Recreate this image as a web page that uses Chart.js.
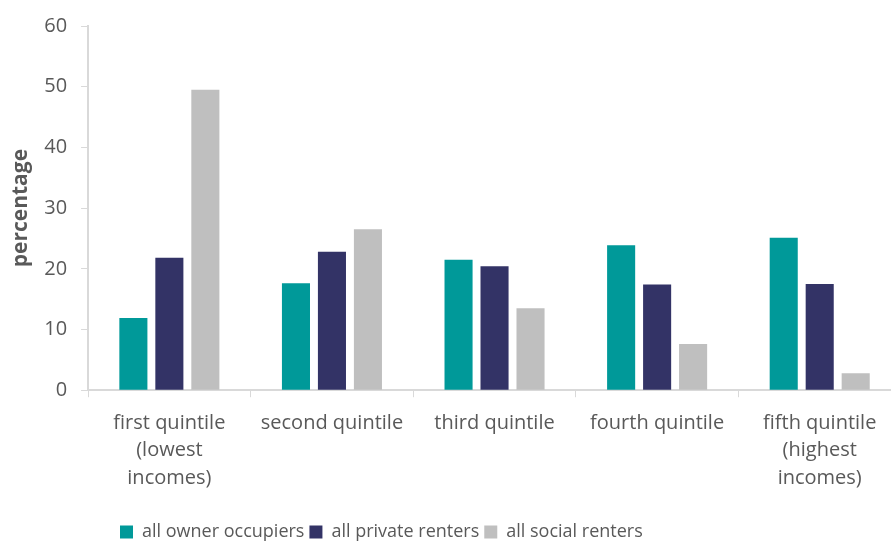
<!DOCTYPE html>
<html>
<head>
<meta charset="utf-8">
<script src="https://cdn.jsdelivr.net/npm/chart.js@4"></script>
<style>
  html, body { margin: 0; padding: 0; background: #fff; overflow: hidden; }
  #wrap { width: 903px; height: 542px; }
</style>
</head>
<body>
<div id="wrap"><canvas id="myChart"></canvas></div>
<script>
var quintiles = [
  ["first quintile", "(lowest", "incomes)"],
  "second quintile",
  "third quintile",
  "fourth quintile",
  ["fifth quintile", "(highest", "incomes)"]
];
var ownerOccupiers = [11.9, 17.6, 21.5, 23.9, 25.1];
var privateRenters = [21.8, 22.8, 20.4, 17.4, 17.5];
var socialRenters = [49.5, 26.5, 13.5, 7.6, 2.8];
var yTicks = [0, 10, 20, 30, 40, 50, 60];

var textColor = "#595959";
var axisColor = "#d9d9d9";
Chart.defaults.font.family = "'Open Sans', sans-serif";
Chart.defaults.font.size = 20;
Chart.defaults.color = textColor;

// put the legend where the original picture has it (box moved, clip area too)
var legendShift = {
  id: 'legendShift',
  afterLayout: function(chart) {
    var lg = chart.legend;
    if (lg) {
      lg.left = 115;
      lg.top += 14;
      lg.bottom += 14;
    }
  }
};

new Chart(document.getElementById("myChart"), {
  type: 'bar',
  data: {
    labels: quintiles,
    datasets: [
      { label: "all owner occupiers", data: ownerOccupiers, backgroundColor: "#009999" },
      { label: "all private renters", data: privateRenters, backgroundColor: "#333366" },
      { label: "all social renters", data: socialRenters, backgroundColor: "#bfbfbf" }
    ]
  },
  options: {
    responsive: true,
    maintainAspectRatio: false,
    animation: false,
    categoryPercentage: 0.664,
    barPercentage: 0.78,
    layout: { padding: { top: 12, right: 2, left: 8, bottom: 5 } },
    plugins: {
      legend: {
        position: 'bottom',
        align: 'start',
        labels: { boxWidth: 13, boxHeight: 13, padding: 5, font: { size: 18 } }
      },
      tooltip: { enabled: false }
    },
    scales: {
      x: {
        offset: true,
        grid: { display: true, offset: true, drawOnChartArea: false, tickLength: 7, color: axisColor },
        border: { color: axisColor, width: 2 },
        ticks: { padding: 12, maxRotation: 0, autoSkip: false, font: { size: 20, lineHeight: 1.38 } }
      },
      y: {
        min: 0,
        max: 60,
        afterBuildTicks: function(axis) { axis.ticks = yTicks.map(function(v) { return { value: v }; }); },
        grid: { display: true, drawOnChartArea: false, tickLength: 7, color: axisColor },
        border: { color: axisColor, width: 2 },
        ticks: { padding: 14, font: { size: 20 } },
        title: { display: true, text: "percentage", color: textColor, font: { size: 21, weight: 'bold' }, padding: { top: 0, bottom: -3 } }
      }
    }
  },
  plugins: [legendShift]
});
</script>
</body>
</html>
